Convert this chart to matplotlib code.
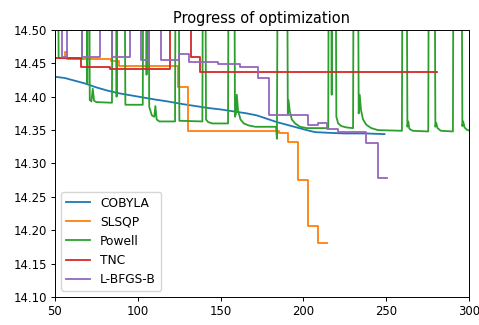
import matplotlib
matplotlib.use('Agg')
import matplotlib.pyplot as plt

# Value of the objective against iteration number.
# Values above 14.5 are outside the axes anyway, HI just marks them.
HI = 14.62

# COBYLA - smooth decrease
cobyla_it = [40, 50, 56, 62, 68, 75, 82, 89, 96, 103, 110, 118, 127, 135, 143,
             150, 158, 166, 172, 178, 184, 190, 196, 202, 207, 215, 225, 238, 249]
cobyla_f = [14.432, 14.430, 14.428, 14.424, 14.420, 14.414, 14.409, 14.405,
            14.402, 14.399, 14.396, 14.393, 14.389, 14.386, 14.383, 14.381,
            14.378, 14.375, 14.372, 14.367, 14.362, 14.358, 14.354, 14.350,
            14.347, 14.346, 14.345, 14.345, 14.344]

# SLSQP - steps (iteration where the value changes, new value)
slsqp_it = [40, 56, 57.5, 84, 88.5, 124.5, 130.5, 185.5, 190.5, 196.5, 203, 209, 214]
slsqp_f = [14.458, 14.467, 14.457, 14.454, 14.446, 14.414, 14.348, 14.345,
           14.332, 14.276, 14.207, 14.181, 14.181]

# Powell - jumps out of range and falls back again
powell_it = [40, 51.8, 52.2, 66.3, 66.6, 69.2, 69.5, 69.8, 70.7, 71.0, 72.0, 72.8,
             73.6, 75, 84.4, 84.7, 86.9, 87.2, 87.5, 92.0, 92.5, 103, 103.3, 105,
             105.3, 105.7, 106.5, 106.9, 108.5, 110, 110.6, 111.4, 113, 122.5,
             122.8, 124.7, 125.1, 139, 139.3, 140.8, 141.2, 142.5, 145, 154.5,
             154.8, 158.3, 158.7, 159.3, 159.8, 160.5, 162, 164, 167, 171, 183.5,
             184.0, 184.5, 190.2, 190.6, 191.0, 191.8, 193, 195, 198, 202, 215,
             215.3, 216.8, 217.1, 217.4, 219.5, 219.9, 221, 223, 226, 230, 230.3,
             233, 233.4, 234, 234.8, 236, 238, 241, 245, 259.5, 259.8, 262.4,
             262.8, 263.3, 264, 266, 275.4, 275.7, 279.3, 279.7, 280.2, 281, 283,
             290.3, 290.6, 295.6, 296, 296.5, 297.3, 299, 302]
powell_f = [HI, HI, 14.458, 14.457, HI, HI, 14.42, HI, HI, 14.395, 14.393, 14.412,
            14.394, 14.392, 14.391, HI, HI, 14.40, HI, HI, 14.388, 14.388, HI, HI,
            14.433, HI, HI, 14.385, 14.372, 14.370, 14.386, 14.366, 14.363, 14.363,
            HI, HI, 14.364, 14.363, HI, HI, 14.366, 14.362, 14.360, 14.360,
            HI, HI, 14.370, 14.375, 14.403, 14.380, 14.366, 14.360, 14.357, 14.355,
            14.355, 14.337, HI, HI, 14.375, 14.395, 14.378, 14.366, 14.360, 14.355,
            14.353, 14.353, HI, HI, 14.403, HI, HI, 14.370, 14.360, 14.356, 14.354,
            14.353, HI, HI, 14.375, 14.403, 14.380, 14.366, 14.358, 14.353, 14.350,
            14.349, HI, HI, 14.355, 14.363, 14.352, 14.349, 14.348, HI, HI, 14.355,
            14.361, 14.353, 14.349, 14.348, HI, HI, 14.356, 14.363, 14.354, 14.350,
            14.349]

# TNC - steps
tnc_it = [40, 66, 83.5, 119.5, 132, 137.5, 280.5]
tnc_f = [14.458, 14.444, 14.441, HI, 14.46, 14.4375, 14.4375]

# L-BFGS-B - steps
lbfgs_it = [40, 54, 57, 66.5, 77.2, 84.2, 95.3, 101.9, 106.9, 114, 125, 130.7,
            148.6, 161.7, 172.8, 179, 203, 209, 214.5, 221, 238, 245, 250.5]
lbfgs_f = [HI, 14.459, HI, 14.459, HI, 14.459, HI, 14.455, HI, 14.455, 14.464,
           14.4525, 14.4485, 14.445, 14.4275, 14.372, 14.358, 14.361, 14.351,
           14.3465, 14.330, 14.279, 14.279]


def main():
    plt.rcParams['font.size'] = 8.4

    fig = plt.figure(figsize=(4.79, 3.25), dpi=100)
    ax = fig.add_axes([0.1148, 0.0862, 0.8643, 0.8215])

    lw = 1.3
    ax.plot(cobyla_it, cobyla_f, lw=lw, label='COBYLA')
    ax.plot(slsqp_it, slsqp_f, lw=lw, drawstyle='steps-post', label='SLSQP')
    ax.plot(powell_it, powell_f, lw=lw, label='Powell')
    ax.plot(tnc_it, tnc_f, lw=lw, drawstyle='steps-post', label='TNC')
    ax.plot(lbfgs_it, lbfgs_f, lw=lw, drawstyle='steps-post', label='L-BFGS-B')

    ax.set_xlim(50, 300)
    ax.set_ylim(14.10, 14.50)
    ax.set_yticks([14.10, 14.15, 14.20, 14.25, 14.30, 14.35, 14.40, 14.45, 14.50])
    ax.tick_params(length=2.9, width=0.7, pad=2.9)
    for s in ax.spines.values():
        s.set_linewidth(0.7)

    ax.set_title('Progress of optimization', fontsize=10.5, pad=5)
    ax.legend(loc='lower left', fontsize=8.8)

    fig.savefig('out.png', dpi=100)


if __name__ == '__main__':
    main()
